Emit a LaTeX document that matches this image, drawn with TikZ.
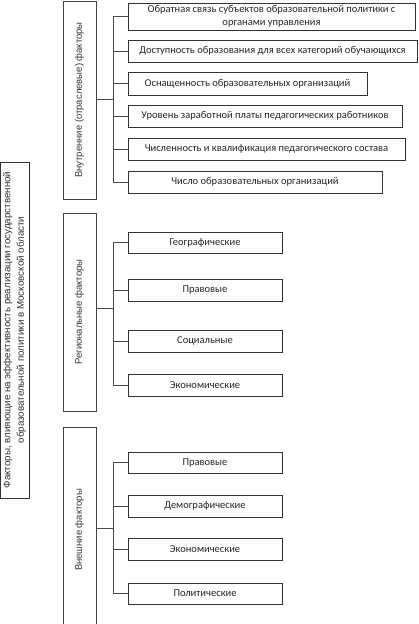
\documentclass[tikz,border=0pt]{standalone}
\usepackage{fontspec}
\setmainfont{Carlito}
\newfontfamily\arialf{Liberation Sans}
\begin{document}
\begin{tikzpicture}[x=1pt,y=-1pt,
  leaf/.style={draw=black!80, line width=0.7pt, inner sep=0pt, align=center,
    font=\fontsize{10.5}{12.5}\selectfont, text=black!85, fill=white},
  grp/.style={draw=black!75, line width=0.7pt, inner sep=0pt, rotate=90,
    minimum height=33pt, font=\arialf\fontsize{9.5}{12}\selectfont, text=black!80},
  mainbox/.style={draw=black!80, line width=0.7pt, inner sep=0pt, rotate=90, align=center,
    minimum height=29pt, minimum width=336pt, font=\arialf\fontsize{9.8}{13.5}\selectfont, text=black!80},
  conn/.style={draw=black!70, line width=0.7pt}]
\useasboundingbox (0,0) rectangle (419,624);
\clip (0,0) rectangle (419,624);

% main box
\node[mainbox] (m) at (14.5,330) {Факторы, влияющие на эффективность реализации государственной\\образовательной политики в Московской области};

% groups
\node[grp, minimum width=198pt] (g1) at (79.5,100) {Внутренние (отраслевые) факторы};
\node[grp, minimum width=198pt] (g2) at (79.5,312) {Региональные факторы};
\node[grp, minimum width=206pt] (g3) at (79.5,530) {Внешние факторы};

% internal leaves
\node[leaf, minimum width=287pt, minimum height=27pt] (a1) at (271.5,16.5) {Обратная связь субъектов образовательной политики с\\органами управления};
\node[leaf, minimum width=289pt, minimum height=22pt] (a2) at (272.5,51) {Доступность образования для всех категорий обучающихся};
\node[leaf, minimum width=239pt, minimum height=23pt] (a3) at (247.5,83.5) {Оснащенность образовательных организаций};
\node[leaf, minimum width=274pt, minimum height=22pt] (a4) at (265,116) {Уровень заработной платы педагогических работников};
\node[leaf, minimum width=277pt, minimum height=22pt] (a5) at (266.5,149) {Численность и квалификация педагогического состава};
\node[leaf, minimum width=254pt, minimum height=22pt] (a6) at (255,182) {Число образовательных организаций};

% regional leaves
\node[leaf, minimum width=154pt, minimum height=21pt] (r1) at (205,242.5) {Географические};
\node[leaf, minimum width=154pt, minimum height=22pt] (r2) at (205,290) {Правовые};
\node[leaf, minimum width=154pt, minimum height=22pt] (r3) at (205,341) {Социальные};
\node[leaf, minimum width=154pt, minimum height=22pt] (r4) at (205,385) {Экономические};

% external leaves
\node[leaf, minimum width=154pt, minimum height=21pt] (e1) at (205,462.5) {Правовые};
\node[leaf, minimum width=154pt, minimum height=22pt] (e2) at (205,506) {Демографические};
\node[leaf, minimum width=154pt, minimum height=22pt] (e3) at (205,549) {Экономические};
\node[leaf, minimum width=154pt, minimum height=21pt] (e4) at (205,593.5) {Политические};

% junctions
\coordinate (j1) at (113,99);
\coordinate (j2) at (113,308);
\coordinate (j3) at (113,528);

% connectors group 1
\draw[conn] (g1.south |- j1) -- (j1);
\draw[conn] (a1.west -| j1) -- (a6.west -| j1);
\foreach \n in {a1,a2,a3,a4,a5,a6} \draw[conn] (\n.west -| j1) -- (\n.west);

% connectors group 2
\draw[conn] (g2.south |- j2) -- (j2);
\draw[conn] (r1.west -| j2) -- (r4.west -| j2);
\foreach \n in {r1,r2,r3,r4} \draw[conn] (\n.west -| j2) -- (\n.west);

% connectors group 3
\draw[conn] (g3.south |- j3) -- (j3);
\draw[conn] (e1.west -| j3) -- (e4.west -| j3);
\foreach \n in {e1,e2,e3,e4} \draw[conn] (\n.west -| j3) -- (\n.west);
\end{tikzpicture}
\end{document}
